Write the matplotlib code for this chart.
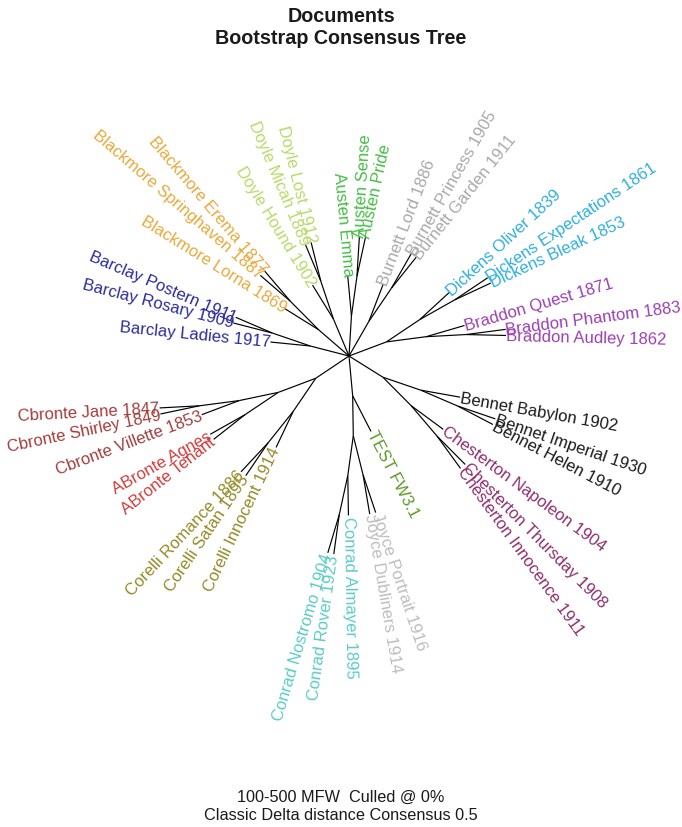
import numpy as np
import matplotlib
matplotlib.use("Agg")
import matplotlib.pyplot as plt
from matplotlib.collections import LineCollection

plt.rcParams["font.family"] = ["Liberation Sans", "DejaVu Sans"]

# consensus tree topology (every edge has unit length), leaves in drawing order
tree = [
    [[["Braddon Audley 1862", "Braddon Phantom 1883"], "Braddon Quest 1871"],
     [["Dickens Bleak 1853", "Dickens Expectations 1861"], "Dickens Oliver 1839"]],
    [["Burnett Garden 1911", "Burnett Princess 1905"], "Burnett Lord 1886"],
    [["Austen Pride", "Austen Sense"], "Austen Emma"],
    [["Doyle Lost 1912", "Doyle Micah 1889"], "Doyle Hound 1902"],
    [["Blackmore Erema 1877", "Blackmore Springhaven 1887"], "Blackmore Lorna 1869"],
    [["Barclay Postern 1911", "Barclay Rosary 1909"], "Barclay Ladies 1917"],
    [[[["Cbronte Jane 1847", "Cbronte Shirley 1849"], "Cbronte Villette 1853"],
      ["ABronte Agnes", "ABronte Tenant"]],
     [["Corelli Romance 1886", "Corelli Satan 1895"], "Corelli Innocent 1914"]],
    [[[["Conrad Nostromo 1904", "Conrad Rover 1923"], "Conrad Almayer 1895"],
      ["Joyce Dubliners 1914", "Joyce Portrait 1916"]],
     "TEST FW3.1"],
    [[["Chesterton Innocence 1911", "Chesterton Thursday 1908"], "Chesterton Napoleon 1904"],
     [["Bennet Helen 1910", "Bennet Imperial 1930"], "Bennet Babylon 1902"]],
]

authors = ["ABronte", "Austen", "Barclay", "Bennet", "Blackmore", "Braddon", "Burnett",
           "Cbronte", "Chesterton", "Conrad", "Corelli", "Dickens", "Doyle", "Joyce", "TEST"]
author_colors = ["#d23c3c", "#45bd45", "#2b2b9c", "#1a1a1a", "#e8a93c", "#9a40b0", "#a9a9a9",
                 "#a43c3c", "#8e2f6e", "#5ccbc6", "#958a26", "#30afdc", "#b8da68", "#bdbdbd",
                 "#5e9a28"]

title = "Documents\nBootstrap Consensus Tree"
footer = "100-500 MFW  Culled @ 0%\nClassic Delta distance Consensus 0.5"

color_of = dict(zip(authors, author_colors))


def n_tips(node):
    if isinstance(node, str):
        return 1
    return sum(n_tips(c) for c in node)


# equal-angle unrooted layout
def layout(node, x, y, start, step, segs, tips):
    a = start
    for child in node:
        w = n_tips(child) * step
        ang = a + w / 2.0
        cx = x + np.cos(np.radians(ang))
        cy = y + np.sin(np.radians(ang))
        segs.append([(x, y), (cx, cy)])
        if isinstance(child, str):
            tips.append((child, cx, cy, ang))
        else:
            layout(child, cx, cy, a, step, segs, tips)
        a += w


N = n_tips(tree)
step = 360.0 / N
segs, tips = [], []
layout(tree, 0.0, 0.0, -5.7, step, segs, tips)

fig = plt.figure(figsize=(6.82, 8.28), dpi=100)
ax = fig.add_axes([0, 0, 1, 1])
ax.set_xlim(-8.725, 8.325)
ax.set_ylim(-11.775, 8.925)
ax.set_aspect("equal")
ax.axis("off")

ax.add_collection(LineCollection(segs, colors="black", linewidths=0.85))

for name, x, y, ang in tips:
    ang = ang % 360
    col = color_of[name.split()[0]]
    if 90 < ang < 270:
        ax.text(x, y, name, rotation=ang - 180, ha="right", va="center",
                rotation_mode="anchor", color=col, fontsize=12)
    else:
        ax.text(x, y, name, rotation=ang, ha="left", va="center",
                rotation_mode="anchor", color=col, fontsize=12)

fig.text(0.5, 0.980, title.split("\n")[0], ha="center", va="center",
         fontsize=14.2, fontweight="bold", color="#1a1a1a")
fig.text(0.5, 0.953, title.split("\n")[1], ha="center", va="center",
         fontsize=14.2, fontweight="bold", color="#1a1a1a")
fig.text(0.5, 0.0375, footer.split("\n")[0], ha="center", va="center",
         fontsize=11.7, color="#1a1a1a")
fig.text(0.5, 0.0145, footer.split("\n")[1], ha="center", va="center",
         fontsize=11.7, color="#1a1a1a")

fig.savefig("out.png", dpi=100)
